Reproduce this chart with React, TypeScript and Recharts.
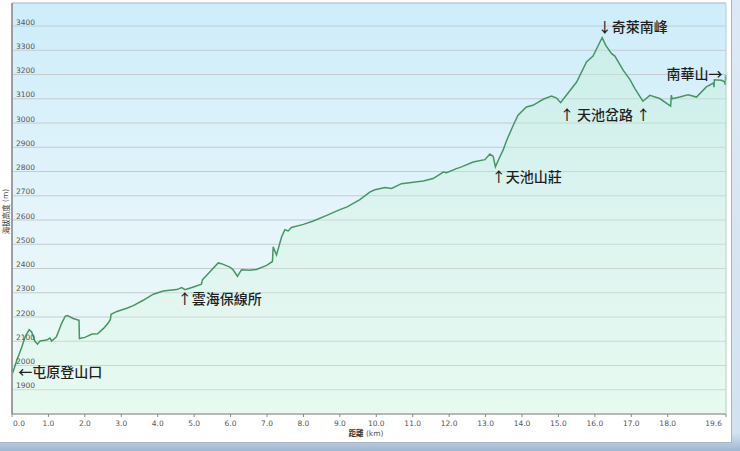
import {
  Area,
  CartesianGrid,
  ComposedChart,
  ReferenceArea,
  ReferenceDot,
  XAxis,
  YAxis,
} from "recharts";

// track profile: distance (km) and elevation (m)
const distanceKm = [
  0, 0.03, 0.13, 0.27, 0.36, 0.47, 0.54, 0.63, 0.7, 0.77, 0.95, 1.04, 1.09,
  1.22, 1.36, 1.46, 1.52, 1.68, 1.84, 1.85, 2.0, 2.2, 2.35, 2.52, 2.64, 2.7,
  2.72, 2.88, 3.15, 3.33, 3.6, 3.88, 4.15, 4.52, 4.66, 4.75, 4.98, 5.2, 5.23,
  5.39, 5.66, 5.75, 5.98, 6.07, 6.19, 6.3, 6.53, 6.71, 6.99, 7.15, 7.17, 7.26,
  7.4, 7.49, 7.58, 7.67, 8.0, 8.27, 8.64, 9.0, 9.2, 9.55, 9.82, 9.96, 10.24,
  10.42, 10.69, 11.29, 11.56, 11.84, 11.93, 12.2, 12.34, 12.66, 12.98, 13.12,
  13.21, 13.27, 13.39, 13.48, 13.58, 13.76, 13.89, 14.12, 14.3, 14.58, 14.81,
  14.95, 15.06, 15.18, 15.5, 15.77, 15.95, 16.14, 16.2, 16.3, 16.46, 16.55,
  16.78, 16.96, 17.1, 17.23, 17.32, 17.51, 17.78, 18.08, 18.1, 18.12, 18.33,
  18.56, 18.79, 19.06, 19.26, 19.27, 19.28, 19.48, 19.56, 19.58, 19.59, 19.6,
];

const elevationM = [
  1983, 1975, 2021, 2076, 2118, 2148, 2138, 2100, 2088, 2101, 2105, 2113, 2101,
  2118, 2173, 2203, 2206, 2194, 2186, 2111, 2116, 2130, 2131, 2154, 2175, 2190,
  2211, 2223, 2236, 2247, 2269, 2294, 2307, 2313, 2321, 2313, 2324, 2335, 2354,
  2379, 2423, 2420, 2406, 2395, 2368, 2395, 2393, 2396, 2413, 2429, 2490, 2456,
  2530, 2560, 2555, 2569, 2582, 2596, 2619, 2643, 2654, 2684, 2715, 2725, 2734,
  2730, 2750, 2761, 2771, 2798, 2795, 2812, 2819, 2839, 2849, 2872,
  2862, 2819, 2860, 2888, 2929, 2991, 3032, 3066, 3073, 3098, 3111,
  3103, 3084, 3107, 3169, 3252, 3276, 3334, 3352, 3320, 3286, 3276,
  3217, 3180, 3142, 3111, 3090, 3114, 3101, 3070, 3115, 3100, 3107,
  3117, 3107, 3149, 3165, 3148, 3178, 3176, 3170, 3158, 3198, 3178,
];

const xTicks = [0, 1, 2, 3, 4, 5, 6, 7, 8, 9, 10, 11, 12, 13, 14, 15, 16, 17, 18, 19.6];
const yTicks = [1900, 2000, 2100, 2200, 2300, 2400, 2500, 2600, 2700, 2800, 2900, 3000, 3100, 3200, 3300, 3400];

// place names: where each label starts (km, m)
const noteKm = [0.17, 4.55, 13.17, 16.08, 15.04, 17.97];
const noteM = [1972, 2273, 2777, 3395, 3035, 3201];
const noteText = ["←屯原登山口", "↑雲海保線所", "↑天池山莊", "↓奇萊南峰", "↑ 天池岔路 ↑", "南華山→"];

const chartData = distanceKm.map((km, index) => ({ km, elevation: elevationM[index] }));

const tickFont = "Verdana, 'DejaVu Sans', sans-serif";
const cjkFont = "'Noto Sans CJK TC', 'Noto Sans', sans-serif";

function renderYTick({ x, y, payload }: any) {
  return (
    <text x={x + 4} y={y - 1.5} fontSize={7.5} fill="#555" fontFamily={tickFont}>
      {payload.value}
    </text>
  );
}

function renderXTick({ x, y, payload, index }: any) {
  const last = index === xTicks.length - 1;
  const anchor = index === 0 ? "start" : last ? "end" : "middle";
  const dx = index === 0 ? 1 : last ? -4 : 0;

  return (
    <text
      x={x + dx}
      y={y + 6.5}
      textAnchor={anchor}
      fontSize={7.5}
      fill="#555"
      fontFamily={tickFont}
    >
      {Number(payload.value).toFixed(1)}
    </text>
  );
}

function renderXTitle({ viewBox }: any) {
  const cx = viewBox.x + viewBox.width / 2;
  return (
    <text x={cx - 3} y={viewBox.y + 22} textAnchor="middle" fontSize={7.5} fill="#555" fontFamily={tickFont}>
      <tspan fontFamily={cjkFont} fontWeight={700} fill="#333">距離</tspan>
      <tspan> (km)</tspan>
    </text>
  );
}

function renderYTitle({ viewBox }: any) {
  const cx = viewBox.x + 5;
  const cy = viewBox.y + viewBox.height / 2 + 3;
  return (
    <text
      x={cx}
      y={cy}
      transform={`rotate(-90 ${cx} ${cy})`}
      textAnchor="middle"
      dominantBaseline="central"
      fontSize={7.5}
      fill="#555"
      fontFamily={tickFont}
    >
      <tspan fontFamily={cjkFont} fill="#333">海拔高度</tspan>
      <tspan> (m)</tspan>
    </text>
  );
}

export default function App() {
  return (
    <div
      style={{
        position: "absolute",
        left: 0,
        top: 0,
        width: 740,
        height: 451,
        background: "linear-gradient(180deg, #dce8f5 0%, #d3e2f1 96%, #9fb7d1 100%)",
        overflow: "hidden",
      }}
    >
      <div
        style={{
          position: "absolute",
          left: 0,
          top: 0,
          width: 731,
          height: 442,
          background: "#fff",
          borderRight: "1px solid #aab5c0",
          borderBottom: "1px solid #aab5c0",
        }}
      >
        <ComposedChart
          width={731}
          height={442}
          data={chartData}
          margin={{ top: 3, right: 5, bottom: 0, left: 0 }}
        >
          <defs>
            <linearGradient id="plotBg" x1="0" x2="0" y1="0" y2="1">
              <stop offset="0%" stopColor="#cdedfa" />
              <stop offset="55%" stopColor="#e6f5fa" />
              <stop offset="100%" stopColor="#eafbf3" />
            </linearGradient>
            <linearGradient id="profileFill" x1="0" x2="0" y1="0" y2="1">
              <stop offset="0%" stopColor="#c2efcf" stopOpacity={0.4} />
              <stop offset="100%" stopColor="#dcf7e6" stopOpacity={0.3} />
            </linearGradient>
          </defs>
          <CartesianGrid
            horizontal
            vertical={false}
            stroke="#c3ccd0"
            fill="url(#plotBg)"
            fillOpacity={1}
          />
          <XAxis
            dataKey="km"
            type="number"
            domain={[0, 19.6]}
            ticks={xTicks}
            interval={0}
            height={28}
            tick={renderXTick}
            tickSize={3}
            tickMargin={2}
            tickLine={{ stroke: "#888" }}
            axisLine={{ stroke: "#999" }}
            label={{ content: renderXTitle }}
          />
          <YAxis
            type="number"
            domain={[1800, 3495]}
            ticks={yTicks}
            interval={0}
            width={12}
            tick={renderYTick}
            tickSize={0}
            tickMargin={0}
            tickLine={false}
            axisLine={{ stroke: "#888", strokeWidth: 1.5 }}
            label={{ content: renderYTitle }}
          />
          <Area
            type="linear"
            dataKey="elevation"
            baseValue={1800}
            stroke="#449762"
            strokeWidth={1.5}
            fill="url(#profileFill)"
            fillOpacity={1}
            dot={false}
            activeDot={false}
            isAnimationActive={false}
          />
          <ReferenceArea
            x1={0}
            x2={19.6}
            y1={1800}
            y2={3495}
            fill="none"
            stroke="#c0c8cc"
            strokeWidth={1}
          />
          {noteText.map((text, index) => (
            <ReferenceDot
              key={text}
              x={noteKm[index]}
              y={noteM[index]}
              r={0}
              fill="none"
              stroke="none"
              label={{
                value: text,
                position: "right",
                offset: 0,
                fill: "#1e1e1e",
                fontSize: 14,
                fontWeight: 500,
                fontFamily: cjkFont,
              }}
            />
          ))}
        </ComposedChart>
      </div>
    </div>
  );
}
